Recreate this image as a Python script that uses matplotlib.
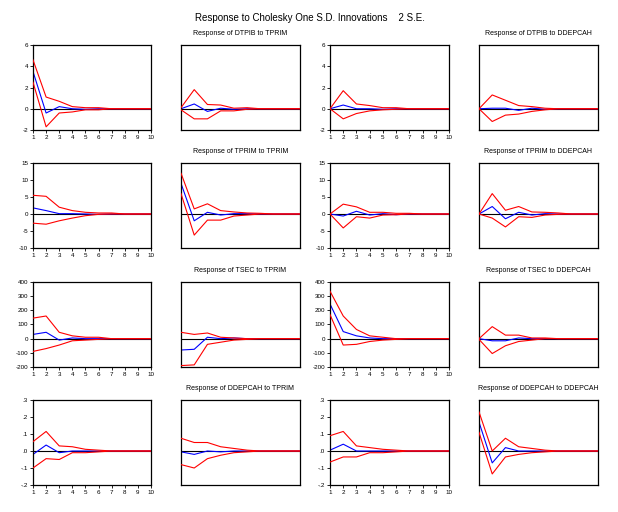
import numpy as np
import matplotlib.pyplot as plt

plt.rcParams['font.family'] = ['Liberation Sans', 'DejaVu Sans']

periods = [1, 2, 3, 4, 5, 6, 7, 8, 9, 10]
variables = ["DTPIB", "TPRIM", "TSEC", "DDEPCAH"]

# response of DTPIB
dtpib_dtpib_mid = [3.5, -0.4, 0.2, 0.0, -0.05, 0.0, 0, 0, 0, 0]
dtpib_dtpib_up = [4.6, 1.1, 0.7, 0.2, 0.1, 0.1, 0, 0, 0, 0]
dtpib_dtpib_lo = [2.5, -1.7, -0.4, -0.3, -0.1, -0.1, 0, 0, 0, 0]
dtpib_tprim_mid = [0.0, 0.45, -0.25, 0.05, -0.05, 0.0, 0, 0, 0, 0]
dtpib_tprim_up = [0.1, 1.8, 0.4, 0.35, 0.05, 0.1, 0, 0, 0, 0]
dtpib_tprim_lo = [-0.1, -0.95, -0.95, -0.2, -0.2, -0.05, 0, 0, 0, 0]
dtpib_tsec_mid = [0.0, 0.35, 0.0, 0.0, -0.05, 0.0, 0, 0, 0, 0]
dtpib_tsec_up = [0.0, 1.7, 0.45, 0.3, 0.1, 0.1, 0, 0, 0, 0]
dtpib_tsec_lo = [0.0, -0.95, -0.45, -0.2, -0.1, -0.05, 0, 0, 0, 0]
dtpib_ddepcah_mid = [0.0, 0.05, 0.05, -0.15, 0.05, -0.05, 0, 0, 0, 0]
dtpib_ddepcah_up = [0.0, 1.3, 0.8, 0.3, 0.2, 0.05, 0, 0, 0, 0]
dtpib_ddepcah_lo = [0.0, -1.2, -0.6, -0.5, -0.25, -0.1, 0, 0, 0, 0]

# response of TPRIM
tprim_dtpib_mid = [1.8, 1.0, 0.1, 0.1, 0.0, -0.1, 0, 0, 0, 0]
tprim_dtpib_up = [5.5, 5.2, 2.0, 1.0, 0.5, 0.3, 0.3, 0, 0, 0]
tprim_dtpib_lo = [-2.7, -3.0, -2.0, -1.2, -0.5, -0.1, 0, 0, 0, 0]
tprim_tprim_mid = [9.0, -2.0, 0.5, -0.3, 0.1, 0.1, 0, 0, 0, 0]
tprim_tprim_up = [12.0, 1.5, 3.0, 1.0, 0.6, 0.3, 0.2, 0, 0, 0]
tprim_tprim_lo = [6.0, -6.2, -1.8, -1.8, -0.6, -0.3, 0, 0, 0, 0]
tprim_tsec_mid = [0.0, -0.6, 0.8, -0.3, 0.1, -0.2, 0, 0, 0, 0]
tprim_tsec_up = [0.0, 2.9, 2.1, 0.5, 0.5, 0.2, 0.2, 0, 0, 0]
tprim_tsec_lo = [0.0, -4.1, -0.8, -1.2, -0.3, -0.2, 0, 0, 0, 0]
tprim_ddepcah_mid = [0.0, 2.2, -1.4, 0.5, -0.3, 0.1, 0, 0, 0, 0]
tprim_ddepcah_up = [0.0, 6.0, 1.1, 2.2, 0.6, 0.5, 0.3, 0, 0, 0]
tprim_ddepcah_lo = [0.0, -1.2, -3.8, -0.8, -1.0, -0.3, -0.1, 0, 0, 0]

# response of TSEC
tsec_dtpib_mid = [30, 45, -10, 5, 0, 0, 0, 0, 0, 0]
tsec_dtpib_up = [145, 160, 45, 20, 10, 10, 0, 0, 0, 0]
tsec_dtpib_lo = [-90, -70, -45, -15, -10, -5, 0, 0, 0, 0]
tsec_tprim_mid = [-80, -75, 10, 0, 5, 0, 0, 0, 0, 0]
tsec_tprim_up = [45, 30, 40, 10, 5, 0, 0, 0, 0, 0]
tsec_tprim_lo = [-190, -185, -40, -25, -10, -5, 0, 0, 0, 0]
tsec_tsec_mid = [245, 50, 20, 5, 0, 0, 0, 0, 0, 0]
tsec_tsec_up = [335, 160, 65, 20, 10, 0, 0, 0, 0, 0]
tsec_tsec_lo = [170, -45, -40, -20, -10, -5, 0, 0, 0, 0]
tsec_ddepcah_mid = [0, -15, -15, 5, 0, 0, 0, 0, 0, 0]
tsec_ddepcah_up = [0, 85, 25, 25, 5, 5, 0, 0, 0, 0]
tsec_ddepcah_lo = [-5, -105, -50, -20, -10, 0, 0, 0, 0, 0]

# response of DDEPCAH
ddepcah_dtpib_mid = [-0.02, 0.035, -0.01, 0.0, 0.0, 0.0, 0, 0, 0, 0]
ddepcah_dtpib_up = [0.055, 0.115, 0.03, 0.025, 0.01, 0.005, 0, 0, 0, 0]
ddepcah_dtpib_lo = [-0.1, -0.045, -0.05, -0.01, -0.01, -0.005, 0, 0, 0, 0]
ddepcah_tprim_mid = [-0.005, -0.02, 0.0, -0.005, 0.0, 0.0, 0, 0, 0, 0]
ddepcah_tprim_up = [0.075, 0.05, 0.05, 0.025, 0.015, 0.005, 0, 0, 0, 0]
ddepcah_tprim_lo = [-0.08, -0.1, -0.045, -0.025, -0.01, -0.005, 0, 0, 0, 0]
ddepcah_tsec_mid = [0.005, 0.04, 0.0, 0.0, 0.0, 0.0, 0, 0, 0, 0]
ddepcah_tsec_up = [0.09, 0.115, 0.03, 0.02, 0.01, 0.005, 0, 0, 0, 0]
ddepcah_tsec_lo = [-0.065, -0.035, -0.035, -0.01, -0.01, -0.005, 0, 0, 0, 0]
ddepcah_ddepcah_mid = [0.17, -0.07, 0.02, 0.0, 0.0, 0.0, 0, 0, 0, 0]
ddepcah_ddepcah_up = [0.23, 0.0, 0.075, 0.025, 0.015, 0.005, 0, 0, 0, 0]
ddepcah_ddepcah_lo = [0.11, -0.135, -0.035, -0.02, -0.01, -0.005, 0, 0, 0, 0]

series = {
    ("DTPIB", "DTPIB"): (dtpib_dtpib_mid, dtpib_dtpib_up, dtpib_dtpib_lo),
    ("DTPIB", "TPRIM"): (dtpib_tprim_mid, dtpib_tprim_up, dtpib_tprim_lo),
    ("DTPIB", "TSEC"): (dtpib_tsec_mid, dtpib_tsec_up, dtpib_tsec_lo),
    ("DTPIB", "DDEPCAH"): (dtpib_ddepcah_mid, dtpib_ddepcah_up, dtpib_ddepcah_lo),
    ("TPRIM", "DTPIB"): (tprim_dtpib_mid, tprim_dtpib_up, tprim_dtpib_lo),
    ("TPRIM", "TPRIM"): (tprim_tprim_mid, tprim_tprim_up, tprim_tprim_lo),
    ("TPRIM", "TSEC"): (tprim_tsec_mid, tprim_tsec_up, tprim_tsec_lo),
    ("TPRIM", "DDEPCAH"): (tprim_ddepcah_mid, tprim_ddepcah_up, tprim_ddepcah_lo),
    ("TSEC", "DTPIB"): (tsec_dtpib_mid, tsec_dtpib_up, tsec_dtpib_lo),
    ("TSEC", "TPRIM"): (tsec_tprim_mid, tsec_tprim_up, tsec_tprim_lo),
    ("TSEC", "TSEC"): (tsec_tsec_mid, tsec_tsec_up, tsec_tsec_lo),
    ("TSEC", "DDEPCAH"): (tsec_ddepcah_mid, tsec_ddepcah_up, tsec_ddepcah_lo),
    ("DDEPCAH", "DTPIB"): (ddepcah_dtpib_mid, ddepcah_dtpib_up, ddepcah_dtpib_lo),
    ("DDEPCAH", "TPRIM"): (ddepcah_tprim_mid, ddepcah_tprim_up, ddepcah_tprim_lo),
    ("DDEPCAH", "TSEC"): (ddepcah_tsec_mid, ddepcah_tsec_up, ddepcah_tsec_lo),
    ("DDEPCAH", "DDEPCAH"): (ddepcah_ddepcah_mid, ddepcah_ddepcah_up, ddepcah_ddepcah_lo),
}

# y axis per row (response variable)
y_ticks = {
    "DTPIB": [-2, 0, 2, 4, 6],
    "TPRIM": [-10, -5, 0, 5, 10, 15],
    "TSEC": [-200, -100, 0, 100, 200, 300, 400],
    "DDEPCAH": [-0.2, -0.1, 0.0, 0.1, 0.2, 0.3],
}
y_labels = {
    "DTPIB": ["-2", "0", "2", "4", "6"],
    "TPRIM": ["-10", "-5", "0", "5", "10", "15"],
    "TSEC": ["-200", "-100", "0", "100", "200", "300", "400"],
    "DDEPCAH": ["-.2", "-.1", ".0", ".1", ".2", ".3"],
}

W, H = 618, 512
fig = plt.figure(figsize=(W / 100, H / 100), dpi=100)
fig.patch.set_facecolor("white")

col_left = [33, 181, 330, 479]
col_w = [118, 119, 119, 119]
row_top = [45, 163, 282, 400]
row_h = 85

fig.text(310 / W, 1 - 18 / H, "Response to Cholesky One S.D. Innovations    2 S.E.",
         ha="center", va="center", fontsize=7)

for i, resp in enumerate(variables):
    for j, shock in enumerate(variables):
        ax = fig.add_axes([col_left[j] / W, 1 - (row_top[i] + row_h) / H,
                           col_w[j] / W, row_h / H])
        mid, up, lo = series[(resp, shock)]
        ax.axhline(0, color="black", lw=0.8, zorder=1)
        ax.plot(periods, mid, color="blue", lw=0.8, zorder=2)
        ax.plot(periods, up, color="red", lw=0.8, zorder=3)
        ax.plot(periods, lo, color="red", lw=0.8, zorder=3)
        ax.set_xlim(1, 10)
        yt = y_ticks[resp]
        ax.set_ylim(yt[0], yt[-1])
        for s in ax.spines.values():
            s.set_linewidth(0.9)
        if j % 2 == 0:
            ax.set_xticks(periods)
            ax.set_xticklabels([str(p) for p in periods])
            ax.set_yticks(yt)
            ax.set_yticklabels(y_labels[resp])
            ax.tick_params(direction="out", length=2, width=0.6,
                           labelsize=4.5, pad=1.5)
        else:
            ax.set_xticks([])
            ax.set_yticks([])
            ax.set_title("Response of %s to %s" % (resp, shock),
                         fontsize=5, pad=7)

fig.savefig("out.png", dpi=100, facecolor="white")
